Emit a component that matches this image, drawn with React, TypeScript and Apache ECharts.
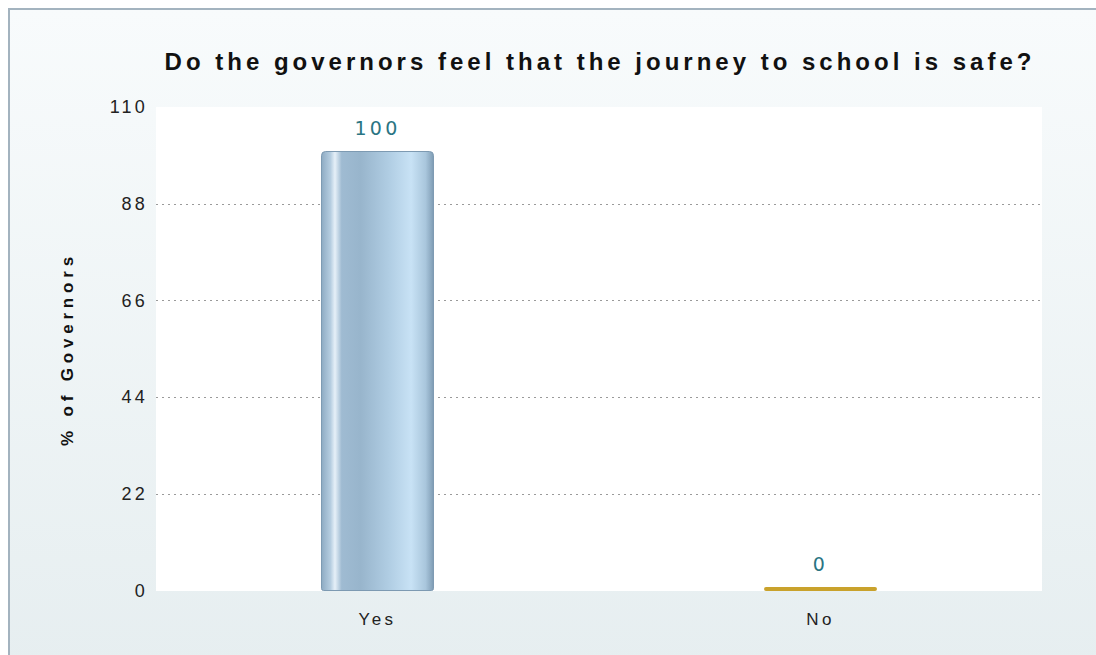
import React, { useEffect, useRef } from "react";
import * as echarts from "echarts";

const categories = ["Yes", "No"];
const values = [100, 0];
const yTicks = [0, 22, 44, 66, 88, 110];
const titleText = "Do the governors feel that the journey to school is safe?";
const yAxisName = "% of Governors";

export default function App() {
  const ref = useRef<HTMLDivElement>(null);
  useEffect(() => {
    document.body.style.overflow = "hidden";
    const chart = echarts.init(ref.current!, null, { renderer: "svg" });
    const barGrad = new echarts.graphic.LinearGradient(0, 0, 1, 0, [
      { offset: 0, color: "#8eabc3" },
      { offset: 0.08, color: "#b5cde0" },
      { offset: 0.12, color: "#e6f0f8" },
      { offset: 0.18, color: "#9fbbd2" },
      { offset: 0.35, color: "#98b5cc" },
      { offset: 0.6, color: "#b0cde3" },
      { offset: 0.8, color: "#c8e2f5" },
      { offset: 0.93, color: "#a9c6dc" },
      { offset: 1, color: "#7f9cb4" },
    ]);
    chart.setOption({
      animation: false,
      backgroundColor: new echarts.graphic.LinearGradient(0, 0, 0, 1, [
        { offset: 0, color: "#f8fbfc" },
        { offset: 1, color: "#e6eef0" },
      ]),
      title: {
        text: titleText,
        left: 585,
        top: 34,
        textAlign: "center",
        textStyle: {
          fontFamily: "Liberation Sans",
          fontWeight: "bold",
          fontSize: 24,
          color: "#111111",
        },
      },
      grid: {
        left: 146,
        right: 66,
        top: 97,
        bottom: 77,
        show: true,
        backgroundColor: "#ffffff",
        borderWidth: 0,
      },
      xAxis: {
        type: "category",
        data: categories,
        axisLine: { show: false },
        axisTick: { show: false },
        axisLabel: {
          margin: 20,
          fontFamily: "Liberation Sans",
          fontSize: 17,
          color: "#222222",
        },
      },
      yAxis: {
        type: "value",
        min: 0,
        max: 110,
        interval: 22,
        name: yAxisName,
        nameLocation: "middle",
        nameGap: 80,
        nameTextStyle: {
          fontFamily: "Liberation Sans",
          fontWeight: "bold",
          fontSize: 17,
          color: "#111111",
        },
        axisLine: { show: false },
        axisTick: { show: false },
        axisLabel: {
          margin: 8,
          fontFamily: "Liberation Sans",
          fontSize: 18,
          color: "#222222",
          formatter: (v: number) => (yTicks.includes(v) ? String(v) : ""),
        },
        splitLine: {
          show: true,
          showMinLine: false,
          showMaxLine: false,
          lineStyle: { type: [2, 4], color: "#9a9a9a", width: 1 },
        },
      },
      series: [
        {
          type: "bar",
          barWidth: "25.5%",
          barMinHeight: 4,
          data: values.map((v) =>
            v === 0
              ? { value: v, itemStyle: { color: "#c9a22c", borderWidth: 0, borderRadius: 2 } }
              : { value: v }
          ),
          itemStyle: {
            color: barGrad,
            borderColor: "#7d9ab2",
            borderWidth: 1,
            borderRadius: [4, 4, 2, 2],
          },
          label: {
            show: true,
            position: "top",
            distance: 14,
            fontFamily: "DejaVu Sans",
            fontSize: 19,
            color: "#2a7583",
          },
        },
      ],
    });
    const texts = ref.current!.querySelectorAll("text");
    texts.forEach((t) => {
      const s = t.textContent || "";
      const el = t as SVGTextElement;
      if (s === titleText) el.style.letterSpacing = "4px";
      else if (s === yAxisName) el.style.letterSpacing = "4.8px";
      else if (s === "Yes" || s === "No") el.style.letterSpacing = "3.5px";
      else el.style.letterSpacing = "3.2px";
    });
    return () => chart.dispose();
  }, []);
  return (
    <div
      ref={ref}
      style={{
        position: "absolute",
        left: 8,
        top: 8,
        width: 1100,
        height: 660,
        borderTop: "2px solid #a3b3bf",
        borderLeft: "2px solid #a3b3bf",
        boxSizing: "border-box",
      }}
    />
  );
}
